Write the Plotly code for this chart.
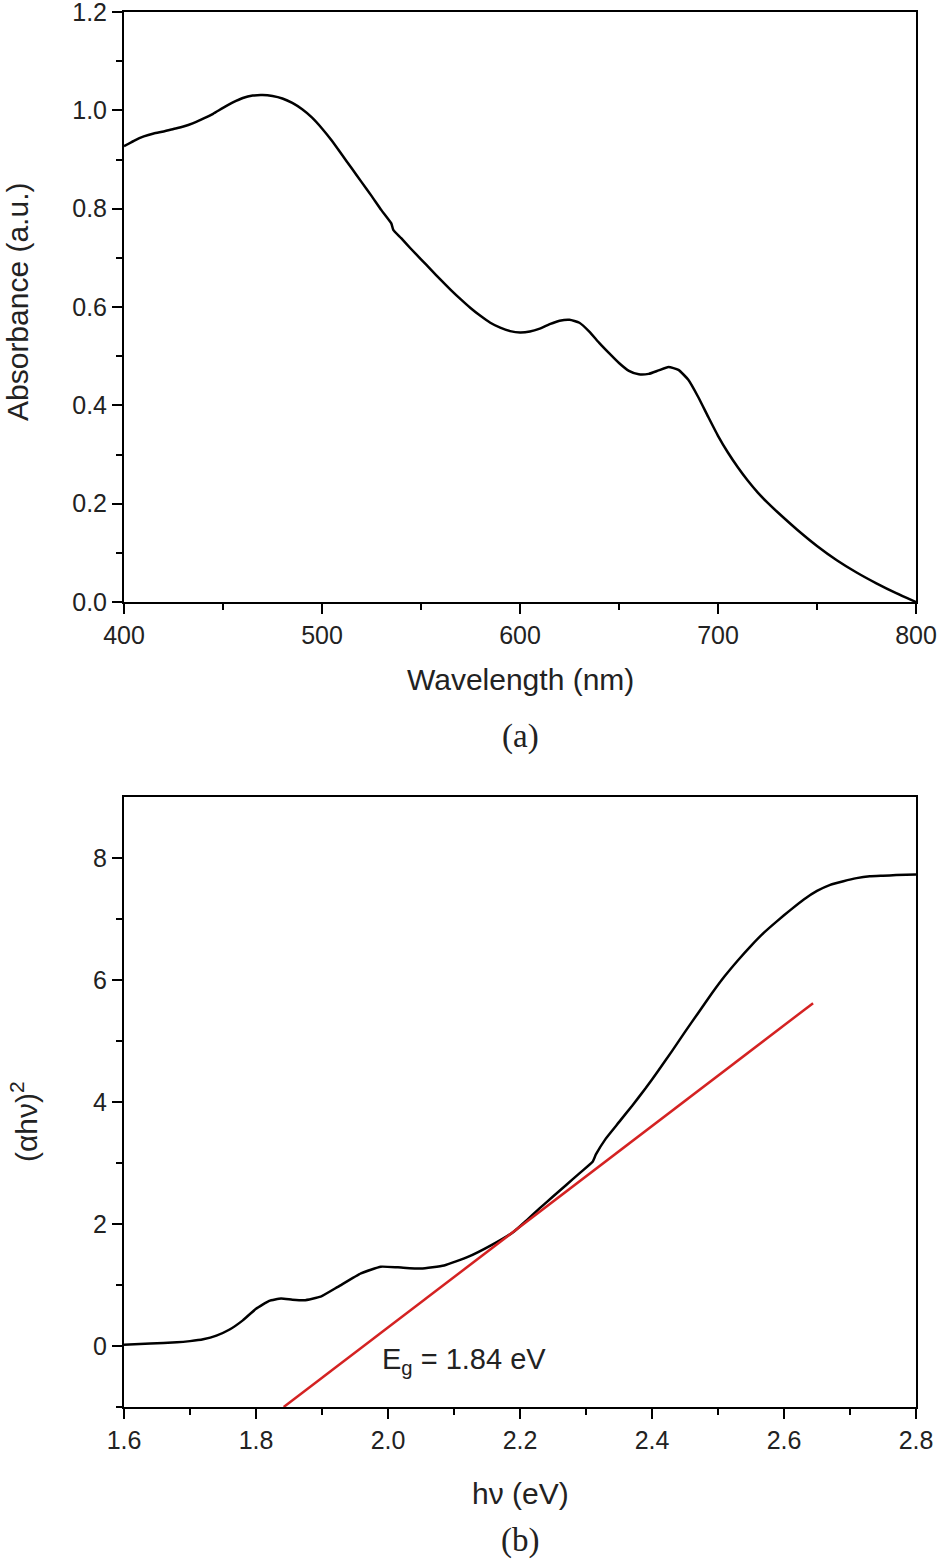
import plotly.graph_objects as go

# ---- Panel (a): absorbance spectrum ----
wavelength = [400, 405, 410, 415, 420, 425, 430, 435, 440, 445, 450, 455, 460, 465, 470, 475,
              480, 485, 490, 495, 500, 505, 510, 515, 520, 525, 530, 535, 536, 540, 545, 550,
              555, 560, 565, 570, 575, 580, 585, 590, 595, 600, 605, 610, 615, 620, 625, 630,
              635, 640, 645, 650, 655, 660, 665, 670, 675, 680, 685, 690, 695, 700, 705, 710,
              715, 720, 725, 730, 740, 750, 760, 770, 780, 790, 800]
absorbance = [0.927, 0.938, 0.947, 0.953, 0.957, 0.962, 0.967, 0.974, 0.983, 0.993, 1.005, 1.016,
              1.025, 1.030, 1.031, 1.029, 1.024, 1.015, 1.002, 0.985, 0.963, 0.938, 0.910, 0.882,
              0.854, 0.826, 0.797, 0.770, 0.757, 0.740, 0.718, 0.697, 0.676, 0.655, 0.635, 0.616,
              0.598, 0.582, 0.568, 0.558, 0.551, 0.548, 0.550, 0.556, 0.565, 0.572, 0.574, 0.568,
              0.550, 0.527, 0.506, 0.486, 0.470, 0.463, 0.464, 0.471, 0.478, 0.472, 0.452, 0.417,
              0.377, 0.338, 0.304, 0.274, 0.247, 0.223, 0.202, 0.183, 0.147, 0.114, 0.085, 0.060,
              0.038, 0.018, 0.000]

# ---- Panel (b): Tauc plot ----
photon_energy = [1.60, 1.64, 1.68, 1.70, 1.72, 1.74, 1.76, 1.78, 1.80, 1.82, 1.838, 1.855, 1.873,
                 1.898, 1.924, 1.959, 1.989, 2.015, 2.05, 2.085, 2.121, 2.156, 2.19, 2.21, 2.23,
                 2.25, 2.27, 2.29, 2.31, 2.315, 2.33, 2.35, 2.37, 2.39, 2.41, 2.43, 2.45, 2.47,
                 2.49, 2.51, 2.53, 2.55, 2.57, 2.59, 2.61, 2.63, 2.65, 2.67, 2.69, 2.71, 2.73,
                 2.75, 2.77, 2.80]
tauc = [0.02, 0.04, 0.06, 0.08, 0.11, 0.17, 0.27, 0.42, 0.61, 0.74, 0.78, 0.76, 0.75,
        0.81, 0.97, 1.19, 1.30, 1.29, 1.27, 1.32, 1.46, 1.65, 1.87, 2.06, 2.26,
        2.45, 2.64, 2.83, 3.02, 3.14, 3.40, 3.67, 3.94, 4.22, 4.52, 4.83, 5.15, 5.46,
        5.77, 6.06, 6.32, 6.56, 6.78, 6.97, 7.15, 7.32, 7.46, 7.56, 7.62, 7.67, 7.70,
        7.71, 7.72, 7.73]

fit_x = [1.842, 2.644]
fit_y = [-1.0, 5.62]

SANS = "Liberation Sans, Arial, sans-serif"
SERIF = "Liberation Serif, Times New Roman, serif"

fig = go.Figure()
fig.add_trace(go.Scatter(x=wavelength, y=absorbance, mode="lines",
                         line=dict(color="black", width=2.5, shape="spline", smoothing=0.5),
                         xaxis="x", yaxis="y", showlegend=False))
fig.add_trace(go.Scatter(x=photon_energy, y=tauc, mode="lines",
                         line=dict(color="black", width=2.5, shape="spline", smoothing=0.4),
                         xaxis="x2", yaxis="y2", showlegend=False))
fig.add_trace(go.Scatter(x=fit_x, y=fit_y, mode="lines",
                         line=dict(color="#d42222", width=2.5),
                         xaxis="x2", yaxis="y2", showlegend=False))

W, H = 947, 1562
xdom = [124 / W, 916 / W]

def ax(**kw):
    base = dict(showline=True, linecolor="black", linewidth=2, mirror=True,
                ticks="outside", ticklen=10, tickwidth=2, tickcolor="black",
                showgrid=False, zeroline=False, automargin=False,
                ticklabeloverflow="allow",
                tickfont=dict(family=SANS, size=25, color="#222"))
    base.update(kw)
    return base

fig.update_layout(
    width=W, height=H,
    margin=dict(l=0, r=0, t=0, b=0, autoexpand=False),
    paper_bgcolor="white", plot_bgcolor="white",
    xaxis=ax(domain=xdom, anchor="y", range=[400, 800], tickvals=[400, 500, 600, 700, 800],
             minor=dict(ticks="outside", ticklen=6, tickwidth=2, tickcolor="black",
                        tickvals=[450, 550, 650, 750])),
    yaxis=ax(domain=[1 - 602 / H, 1 - 12 / H], anchor="x", range=[0, 1.2000001],
             tickvals=[0, 0.2, 0.4, 0.6, 0.8, 1.0, 1.2], tickformat=".1f",
             minor=dict(ticks="outside", ticklen=6, tickwidth=2, tickcolor="black",
                        tickvals=[0.1, 0.3, 0.5, 0.7, 0.9, 1.1])),
    xaxis2=ax(domain=xdom, anchor="y2", range=[1.6, 2.8000001],
              tickvals=[1.6, 1.8, 2.0, 2.2, 2.4, 2.6, 2.8], tickformat=".1f",
              minor=dict(ticks="outside", ticklen=6, tickwidth=2, tickcolor="black",
                         tickvals=[1.7, 1.9, 2.1, 2.3, 2.5, 2.7])),
    yaxis2=ax(domain=[1 - 1407 / H, 1 - 797 / H], anchor="x2", range=[-1, 9],
              tickvals=[0, 2, 4, 6, 8],
              minor=dict(ticks="outside", ticklen=6, tickwidth=2, tickcolor="black",
                         tickvals=[-1, 1, 3, 5, 7])),
)

def ann(text, x, y, size, family=SANS, angle=0, xref="paper", yref="paper"):
    fig.add_annotation(text=text, x=x, y=y, xref=xref, yref=yref, showarrow=False,
                       textangle=angle, xanchor="center", yanchor="middle",
                       font=dict(family=family, size=size, color="#222"))

ann("Absorbance (a.u.)", 17 / W, 1 - 302 / H, 30, angle=-90)
ann("Wavelength (nm)", 520 / W, 1 - 679 / H, 30)
ann("(a)", 520 / W, 1 - 736 / H, 33, family=SERIF)
ann("(αhν)<sup>2</sup>", 24 / W, 1 - 1122 / H, 30, angle=-90)
ann("hν (eV)", 520 / W, 1 - 1493 / H, 30)
ann("(b)", 520 / W, 1 - 1540 / H, 33, family=SERIF)
ann("E<sub>g</sub> = 1.84 eV", 2.115, -0.25, 29, xref="x2", yref="y2")

fig.write_html("out.html")
